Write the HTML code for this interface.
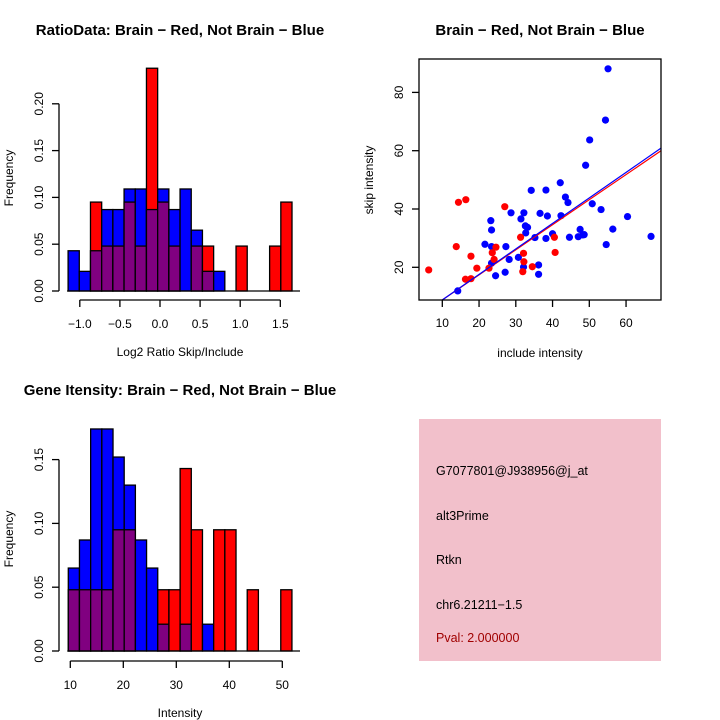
<!DOCTYPE html>
<html><head><meta charset="utf-8"><style>
html,body{margin:0;padding:0;background:#fff;}
svg{display:block;font-family:"Liberation Sans",sans-serif;}
</style></head><body>
<svg id="s" width="720" height="720" xmlns="http://www.w3.org/2000/svg">
<rect width="720" height="720" fill="#fff"/>
<g id="p1"></g>
<g id="p2"></g>
<g id="p3"></g>
<g>
<rect x="419" y="419" width="242" height="242" fill="#f2c0cb"/>
<g font-size="12.5">
<text x="436" y="475">G7077801@J938956@j_at</text>
<text x="436" y="520">alt3Prime</text>
<text x="436" y="564">Rtkn</text>
<text x="436" y="609">chr6.21211−1.5</text>
<text x="436" y="642" fill="#a00000">Pval: 2.000000</text>
</g></g>
</svg>
<script>
const ratioBinStart = -1.146, ratioBinWidth = 0.1396;
const ratioRed = [0,0,0.095,0.048,0.048,0.095,0.048,0.238,0.095,0.048,0,0.048,0.048,0,0,0.048,0,0,0.048,0.095];
const ratioBlue = [0.043,0.021,0.043,0.087,0.087,0.109,0.109,0.087,0.109,0.087,0.109,0.065,0.021,0.021,0,0,0,0,0,0];
const ratioXTicks = [-1.0,-0.5,0.0,0.5,1.0,1.5];
const ratioYTicks = [0.00,0.05,0.10,0.15,0.20];

const intBinStart = 9.62, intBinWidth = 2.11;
const intRed = [0.048,0.048,0.048,0.048,0.095,0.095,0,0,0.048,0.048,0.143,0.095,0,0.095,0.095,0,0.048,0,0,0.048];
const intBlue = [0.065,0.087,0.174,0.174,0.152,0.130,0.087,0.065,0.021,0,0.021,0,0.021,0,0,0,0,0,0,0];
const intXTicks = [10,20,30,40,50];
const intYTicks = [0.00,0.05,0.10,0.15];

const blueX = [14.2,23.4,24.5,23.4,23.4,23.2,21.6,27.3,27.1,28.2,28.7,30.7,31.4,32.2,32.6,32.7,33.2,32.1,35.2,34.2,36.2,36.2,36.6,38.2,38.2,38.6,40.0,42.1,42.3,43.5,44.2,44.6,47.0,47.5,48.2,48.6,49.0,50.1,50.8,53.2,54.6,54.4,55.1,56.4,60.4,66.8];
const blueY = [11.9,21.4,17.1,27.1,32.8,36.0,27.9,27.1,18.3,22.7,38.7,23.4,36.6,38.7,34.2,31.8,33.7,20.1,30.2,46.4,20.8,17.6,38.5,46.5,29.9,37.6,31.5,49.0,37.7,44.1,42.2,30.3,30.5,33.0,31.1,31.2,55.0,63.7,41.8,39.8,27.8,70.5,88.1,33.1,37.4,30.6];
const redX = [6.3,13.8,14.4,16.4,17.8,16.3,17.8,19.4,22.7,23.6,24.1,24.6,27.0,31.3,31.9,32.1,32.2,34.5,40.5,40.7];
const redY = [19.1,27.1,42.3,43.2,23.8,15.9,16.1,19.7,19.7,25.0,22.7,26.9,40.8,30.3,18.5,24.8,21.9,20.2,30.3,25.1];
const fitIntercept = [0.2,0.06];
const fitSlope = [0.86,0.875];
const fitColor = ['#ff0000','#0000ff'];
const scXTicks = [10,20,30,40,50,60];
const scYTicks = [20,40,60,80];

const NS='http://www.w3.org/2000/svg';
function mk(parent,tag,attrs,txt){const e=document.createElementNS(NS,tag);for(const k in attrs)e.setAttribute(k,attrs[k]);if(txt!==undefined)e.textContent=txt;parent.appendChild(e);return e;}
function fmt(v,d){let s=v.toFixed(d);return s.replace('-','\u2212');}

function histogram(g,o){
  const X=v=>o.x0+(v-o.xv0)*o.xs, Y=v=>o.y0-v*o.ys;
  let t=mk(g,'text',{x:o.tx,y:o.ty,'text-anchor':'middle','font-size':15,'font-weight':'bold'},o.title);
  
  for(let i=0;i<o.red.length;i++){
    const l=o.bs+i*o.bw, r=l+o.bw, x1=X(l), x2=X(r);
    const rv=o.red[i], bv=o.blue[i], mx=Math.max(rv,bv), mn=Math.min(rv,bv);
    if(mx>0){
      const b=mk(g,'rect',{x:x1,y:Y(mx),width:x2-x1,height:Y(0)-Y(mx),fill:rv>=bv?'#ff0000':'#0000ff',stroke:'#000','stroke-width':1.3});
      
    }
    if(mn>0){
      const p=mk(g,'rect',{x:x1,y:Y(mn),width:x2-x1,height:Y(0)-Y(mn),fill:'#800080',stroke:'#000','stroke-width':1.3});
      
    }
  }
  const bl=mk(g,'line',{x1:X(o.bs)-1,x2:300,y1:Y(0),y2:Y(0),stroke:'#000','stroke-width':1.3});
  
  const ya=mk(g,'g',{});
  mk(ya,'line',{x1:59,x2:59,y1:Y(o.yt[0]),y2:Y(o.yt[o.yt.length-1]),stroke:'#000','stroke-width':1.3});
  o.yt.forEach(v=>{mk(ya,'line',{x1:52,x2:59,y1:Y(v),y2:Y(v),stroke:'#000','stroke-width':1.3});
    const tl=mk(ya,'text',{x:0,y:0,'font-size':12,'text-anchor':'middle',transform:`translate(43,${Y(v)}) rotate(-90)`},v.toFixed(2));
    });
  const xa=mk(g,'g',{});
  const ay=o.axY;
  mk(xa,'line',{x1:X(o.xt[0]),x2:X(o.xt[o.xt.length-1]),y1:ay,y2:ay,stroke:'#000','stroke-width':1.3});
  o.xt.forEach(v=>{mk(xa,'line',{x1:X(v),x2:X(v),y1:ay,y2:ay+7,stroke:'#000','stroke-width':1.3});
    const tl=mk(xa,'text',{x:X(v),y:ay+28,'font-size':12,'text-anchor':'middle'},fmt(v,o.xd));
    });
  const xl=mk(g,'text',{x:180,y:ay+56,'font-size':12,'text-anchor':'middle'},o.xlab);
  
  const yl=mk(g,'text',{x:0,y:0,'font-size':12,'text-anchor':'middle',transform:`translate(13,${o.ylabY}) rotate(-90)`},'Frequency');
  
}

histogram(document.getElementById('p1'),{x0:160,xv0:0,xs:80.2,y0:291,ys:936,bs:ratioBinStart,bw:ratioBinWidth,red:ratioRed,blue:ratioBlue,xt:ratioXTicks,yt:ratioYTicks,xd:1,axY:300,xlab:'Log2 Ratio Skip/Include',ylabY:178,title:'RatioData: Brain \u2212 Red, Not Brain \u2212 Blue',tx:180,ty:35});
histogram(document.getElementById('p3'),{x0:70.3,xv0:10,xs:5.3,y0:651,ys:1276,bs:intBinStart,bw:intBinWidth,red:intRed,blue:intBlue,xt:intXTicks,yt:intYTicks,xd:0,axY:661,xlab:'Intensity',ylabY:539,title:'Gene Itensity: Brain \u2212 Red, Not Brain \u2212 Blue',tx:180,ty:395});

(function(){
  const g=document.getElementById('p2');
  const L=419,R=661,T=59,B=300;
  const X=v=>442.3+(v-10)*3.675, Y=v=>267.3-(v-20)*2.915;
  const t=mk(g,'text',{x:540,y:35,'text-anchor':'middle','font-size':15,'font-weight':'bold'},'Brain \u2212 Red, Not Brain \u2212 Blue');
  
  mk(g,'defs',{}).innerHTML='<clipPath id="cp"><rect x="419" y="59" width="242" height="241"/></clipPath>';
  const pts=mk(g,'g',{'clip-path':'url(#cp)'});
  
  blueX.forEach((x,i)=>{const c=mk(pts,'circle',{cx:X(x),cy:Y(blueY[i]),r:3.6,fill:'#0000ff'});
    });
  redX.forEach((x,i)=>{const c=mk(pts,'circle',{cx:X(x),cy:Y(redY[i]),r:3.6,fill:'#ff0000'});
    });
  fitIntercept.forEach((a,i)=>{const xa=0,xb=80;
    const l=mk(pts,'line',{x1:X(xa),y1:Y(a+fitSlope[i]*xa),x2:X(xb),y2:Y(a+fitSlope[i]*xb),stroke:fitColor[i],'stroke-width':1.2});
    });
  const bx=mk(g,'rect',{x:L,y:T,width:R-L,height:B-T,fill:'none',stroke:'#000','stroke-width':1.3});
  
  const xa=mk(g,'g',{});
  scXTicks.forEach(v=>{mk(xa,'line',{x1:X(v),x2:X(v),y1:B,y2:B+7,stroke:'#000','stroke-width':1.3});
    const tl=mk(xa,'text',{x:X(v),y:327,'font-size':12,'text-anchor':'middle'},String(v));
    });
  const ya=mk(g,'g',{});
  scYTicks.forEach(v=>{mk(ya,'line',{x1:L-7,x2:L,y1:Y(v),y2:Y(v),stroke:'#000','stroke-width':1.3});
    const tl=mk(ya,'text',{x:0,y:0,'font-size':12,'text-anchor':'middle',transform:`translate(403,${Y(v)}) rotate(-90)`},String(v));
    });
  const xl=mk(g,'text',{x:540,y:357,'font-size':12,'text-anchor':'middle'},'include intensity');
  
  const yl=mk(g,'text',{x:0,y:0,'font-size':12,'text-anchor':'middle',transform:'translate(373,180) rotate(-90)'},'skip intensity');
  
})();
</script>
</body></html>
